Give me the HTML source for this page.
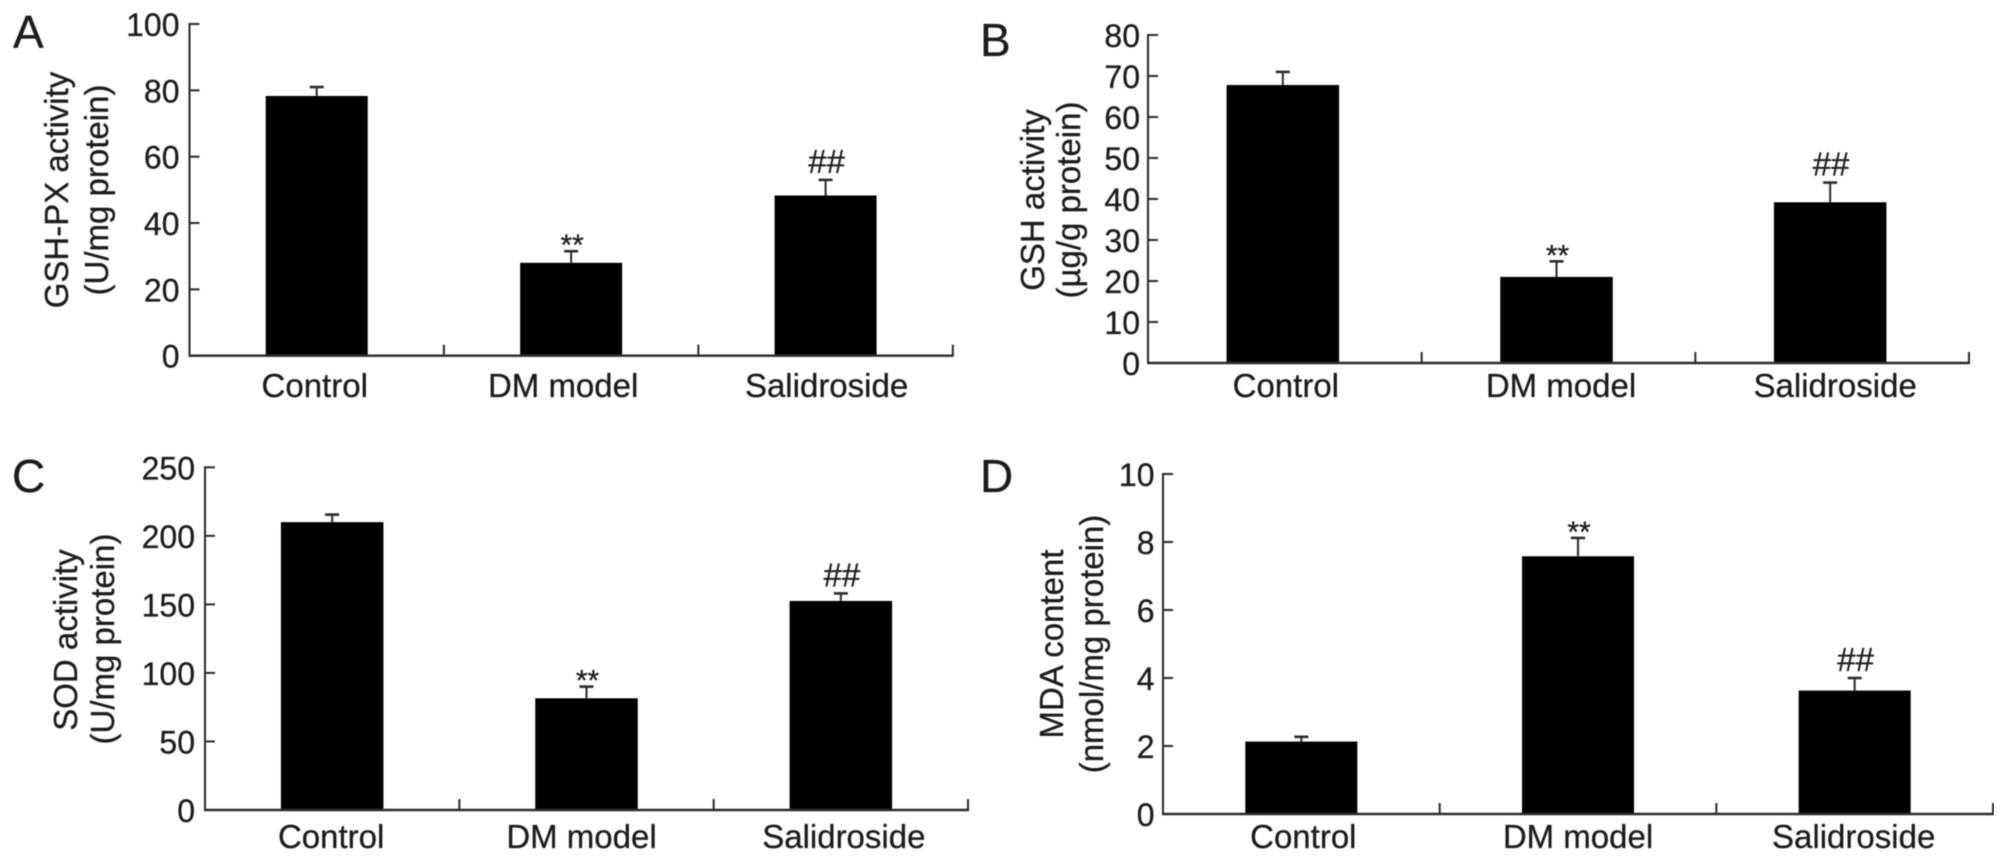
<!DOCTYPE html>
<html lang="en">
<head>
<meta charset="utf-8">
<title>Antioxidant markers by group</title>
<style>
html,body{margin:0;padding:0;background:#fff;}
svg{display:block;}
text{font-family:"Liberation Sans",Arial,sans-serif;fill:#1c1c1c;stroke:#1c1c1c;stroke-width:0.3px;}
</style>
</head>
<body>
<svg id="figure" xmlns="http://www.w3.org/2000/svg" width="2008" height="861" viewBox="0 0 2008 861">
<defs><filter id="soft" x="0" y="0" width="100%" height="100%"><feGaussianBlur stdDeviation="0.55"/></filter></defs>
<rect x="0" y="0" width="2008" height="861" fill="#fff"/>
<g id="root" filter="url(#soft)"></g>
</svg>
<script>
const categories = ['Control', 'DM model', 'Salidroside'];
const annotations = ['', '**', '##'];

const gshpxTicks = [0, 20, 40, 60, 80, 100];
const gshpxValues = [78.3, 28, 48.3];
const gshpxErrorTops = [81, 31.5, 53];

const gshTicks = [0, 10, 20, 30, 40, 50, 60, 70, 80];
const gshValues = [67.8, 21, 39.2];
const gshErrorTops = [71, 24.8, 44];

const sodTicks = [0, 50, 100, 150, 200, 250];
const sodValues = [210, 81.5, 152.5];
const sodErrorTops = [215.5, 90, 158];

const mdaTicks = [0, 2, 4, 6, 8, 10];
const mdaValues = [2.13, 7.58, 3.63];
const mdaErrorTops = [2.27, 8.12, 4.0];

const panels = [
  {id:'a', letter:'A', letterX:13, letterY:48, ticks:gshpxTicks, values:gshpxValues, errs:gshpxErrorTops,
   x0:189.5, x1:952.8, yBase:355.7, yTop:24, barW:102, barShift:0, labelDx:[-2,-8,1], labelY:397, tickGap:10,
   title:['GSH-PX activity','(U/mg protein)'], titleX:[68,108], titleY:[190,190]},
  {id:'b', letter:'B', letterX:980, letterY:56, ticks:gshTicks, values:gshValues, errs:gshErrorTops,
   x0:1148, x1:1969, yBase:363, yTop:35, barW:112.5, barShift:-2, labelDx:[1,2.5,3], labelY:397, tickGap:8,
   title:['GSH activity','(\u00b5g/g protein)'], titleX:[1044,1080], titleY:[200,200]},
  {id:'c', letter:'C', letterX:12, letterY:492, ticks:sodTicks, values:sodValues, errs:sodErrorTops,
   x0:205, x1:968, yBase:810, yTop:467.3, barW:102.5, barShift:0, labelDx:[-1,-5,3], labelY:848, tickGap:10,
   title:['SOD activity','(U/mg protein)'], titleX:[77,114], titleY:[640,639]},
  {id:'d', letter:'D', letterX:980, letterY:492, ticks:mdaTicks, values:mdaValues, errs:mdaErrorTops,
   x0:1163, x1:1993, yBase:814, yTop:474, barW:112, barShift:0, labelDx:[2,0,-1], labelY:848, tickGap:8.5,
   title:['MDA content','(nmol/mg protein)'], titleX:[1063,1103], titleY:[644,644]}
];

const NS = 'http://www.w3.org/2000/svg';
const root = document.getElementById('root');
const INK = '#2a2a2a';

function line(parent, x1, y1, x2, y2, w, color) {
  const l = document.createElementNS(NS, 'line');
  l.setAttribute('x1', x1);
  l.setAttribute('y1', y1);
  l.setAttribute('x2', x2);
  l.setAttribute('y2', y2);
  l.setAttribute('stroke', color || INK);
  l.setAttribute('stroke-width', w);
  parent.appendChild(l);
  return l;
}
function label(parent, str, x, y, size, anchor) {
  const t = document.createElementNS(NS, 'text');
  t.setAttribute('x', x);
  t.setAttribute('y', y);
  t.setAttribute('font-size', size);
  t.setAttribute('text-anchor', anchor || 'middle');
  t.textContent = str;
  parent.appendChild(t);
  return t;
}

panels.forEach(function (p) {
  const g = document.createElementNS(NS, 'g');
  
  
  root.appendChild(g);

  const maxTick = p.ticks[p.ticks.length - 1];
  const yScale = function (v) { return p.yBase - (v / maxTick) * (p.yBase - p.yTop); };
  const slot = (p.x1 - p.x0) / categories.length;
  const xCenter = function (i) { return p.x0 + (i + 0.5) * slot + p.barShift; };

  const letter = label(g, p.letter, p.letterX, p.letterY, 46, 'start');
  
  

  p.values.forEach(function (v, i) {
    const cx = xCenter(i);
    const eb = line(g, cx, yScale(v), cx, yScale(p.errs[i]), 2);
    
    
    const cap = line(g, cx - 7, yScale(p.errs[i]), cx + 7, yScale(p.errs[i]), 2.6);
    
    

    const bar = document.createElementNS(NS, 'rect');
    bar.setAttribute('x', cx - p.barW / 2);
    bar.setAttribute('y', yScale(v));
    bar.setAttribute('width', p.barW);
    bar.setAttribute('height', p.yBase - yScale(v));
    bar.setAttribute('fill', '#000');
    
    
    g.appendChild(bar);

    if (annotations[i]) {
      const isStar = annotations[i] === '**';
      const ann = label(g, annotations[i], cx + 1, yScale(p.errs[i]) + (isStar ? 4 : -7), isStar ? 30 : 33);
      
      
    }

    const cat = label(g, categories[i], xCenter(i) - p.barShift + p.labelDx[i], p.labelY, 33);
    
    
  });

  const yAxis = line(g, p.x0, p.yTop - 1, p.x0, p.yBase + 1, 2);
  
  
  const xAxis = line(g, p.x0 - 1, p.yBase, p.x1 + 1, p.yBase, 2.4);
  
  

  p.ticks.forEach(function (t) {
    const y = yScale(t);
    const tk = line(g, p.x0, y, p.x0 + 10, y, 2);
    
    
    const tl = label(g, String(t), p.x0 - p.tickGap, y + 12, 32, 'end');
    
    
  });

  categories.forEach(function (c, i) {
    const x = p.x0 + (i + 1) * slot;
    const tk = line(g, x, p.yBase, x, p.yBase - 11, 2);
    
    
  });

  p.title.forEach(function (s, i) {
    const tt = label(g, s, 0, 0, 33);
    tt.setAttribute('transform', 'translate(' + p.titleX[i] + ',' + p.titleY[i] + ') rotate(-90)');
    
    
  });
});
</script>
</body>
</html>
